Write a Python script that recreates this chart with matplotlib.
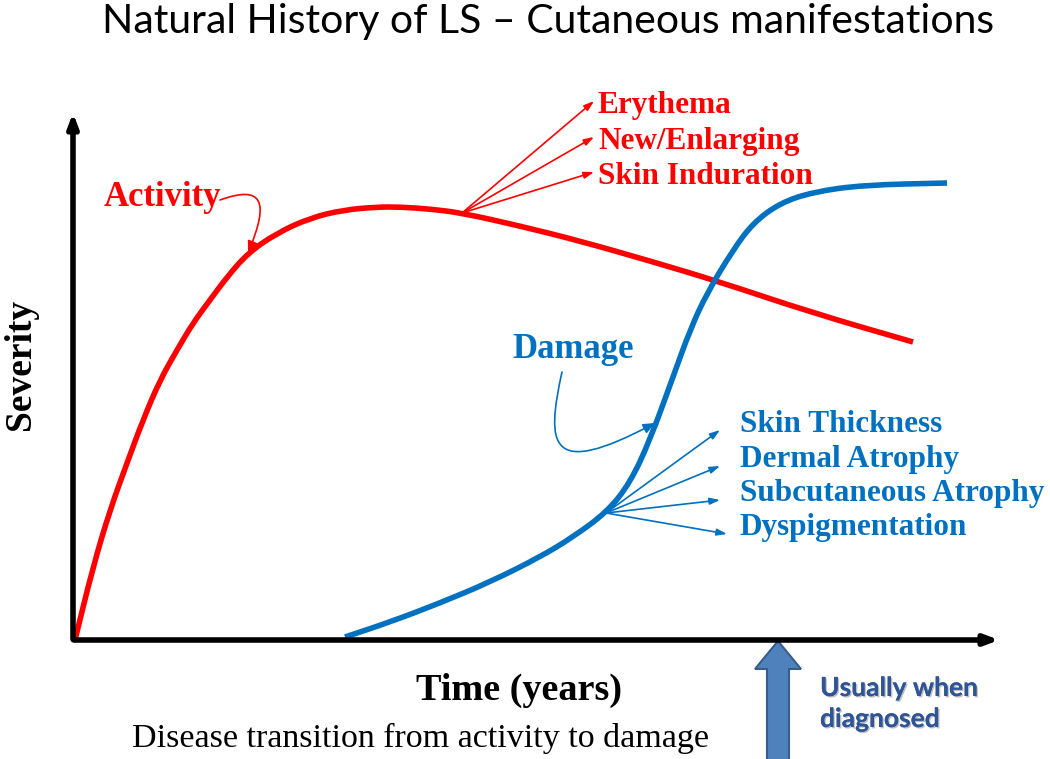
import matplotlib
matplotlib.use("Agg")
import matplotlib.pyplot as plt
from matplotlib.patches import FancyArrowPatch, FancyArrow, PathPatch
from matplotlib.path import Path
import matplotlib.patheffects as pe

# curve points (pixel positions)
activity_x = [75, 93, 110, 127, 143, 160, 177, 193, 210, 227, 248, 277, 310, 343, 377, 400, 430, 462, 520, 580, 650, 717, 813, 913]
activity_y = [640, 567, 510, 463, 420, 380, 350, 323, 300, 277, 253, 233, 218, 210, 207, 207, 209, 213, 226, 241, 261, 281, 313, 342]

damage_x = [345, 390, 440, 490, 540, 573, 607, 630, 650, 673, 690, 707, 733, 753, 780, 813, 863, 947]
damage_y = [637, 622, 603, 582, 557, 537, 512, 483, 440, 377, 330, 293, 250, 223, 203, 192, 185, 183]

activity_labels = ["Erythema", "New/Enlarging", "Skin Induration"]
activity_label_y = [105, 141, 176]
damage_labels = ["Skin Thickness", "Dermal Atrophy", "Subcutaneous Atrophy", "Dyspigmentation"]
damage_label_y = [424, 460, 494, 528]

RED = "#FF0000"
BLUE = "#0070C0"
SERIF = ["Liberation Serif", "DejaVu Serif"]
SANS = ["Lato", "DejaVu Sans"]


def smooth_path(xs, ys):
    # quadratic segments through midpoints, so the polyline reads as a smooth stroke
    pts = list(zip(xs, ys))
    verts = [pts[0]]
    codes = [Path.MOVETO]
    mid = ((pts[0][0] + pts[1][0]) / 2, (pts[0][1] + pts[1][1]) / 2)
    verts.append(mid)
    codes.append(Path.LINETO)
    for i in range(1, len(pts) - 1):
        nxt = ((pts[i][0] + pts[i + 1][0]) / 2, (pts[i][1] + pts[i + 1][1]) / 2)
        verts += [pts[i], nxt]
        codes += [Path.CURVE3, Path.CURVE3]
    verts.append(pts[-1])
    codes.append(Path.LINETO)
    return Path(verts, codes)


fig = plt.figure(figsize=(10.5, 7.59), dpi=100)
ax = fig.add_axes([0, 0, 1, 1])
ax.set_xlim(0, 1050)
ax.set_ylim(759, 0)
ax.axis("off")

# axes arrows
ax.annotate("", xy=(73, 110), xytext=(73, 642),
            arrowprops=dict(arrowstyle="-|>,head_length=0.8,head_width=0.3", lw=4, color="black"))
ax.annotate("", xy=(1002, 640), xytext=(71, 640),
            arrowprops=dict(arrowstyle="-|>,head_length=0.8,head_width=0.3", lw=4, color="black"))

# curves
ax.add_patch(PathPatch(smooth_path(activity_x, activity_y), fill=False, edgecolor=RED, lw=4, capstyle="butt"))
ax.add_patch(PathPatch(smooth_path(damage_x, damage_y), fill=False, edgecolor=BLUE, lw=4, capstyle="butt"))

# activity fan arrows
for ly in activity_label_y:
    ax.annotate("", xy=(594, ly - 4), xytext=(462, 213),
                arrowprops=dict(arrowstyle="-|>,head_length=0.6,head_width=0.2", lw=1.2, color=RED,
                                shrinkA=0, shrinkB=0))
for lab, ly in zip(activity_labels, activity_label_y):
    ax.text(598, ly, lab, color=RED, fontsize=22.5, fontweight="bold", family=SERIF, va="center")

# damage fan arrows
for ly, tx in zip(damage_label_y, [720, 720, 720, 727]):
    ax.annotate("", xy=(tx, ly + 6), xytext=(606, 513),
                arrowprops=dict(arrowstyle="-|>,head_length=0.6,head_width=0.2", lw=1.2, color=BLUE,
                                shrinkA=0, shrinkB=0))
for lab, ly in zip(damage_labels, damage_label_y):
    ax.text(740, ly, lab, color=BLUE, fontsize=22.5, fontweight="bold", family=SERIF, va="center")

# curve labels with curly connectors
ax.text(104, 197, "Activity", color=RED, fontsize=25, fontweight="bold", family=SERIF, va="center")
p = Path([(220, 200), (262, 185), (270, 200), (248, 253)],
         [Path.MOVETO, Path.CURVE4, Path.CURVE4, Path.CURVE4])
ax.add_patch(FancyArrowPatch(path=p, arrowstyle="-|>,head_length=7,head_width=3", lw=1.2, color=RED))

ax.text(512, 350, "Damage", color=BLUE, fontsize=25, fontweight="bold", family=SERIF, va="center")
p2 = Path([(562, 372), (546, 445), (548, 480), (655, 423)],
          [Path.MOVETO, Path.CURVE4, Path.CURVE4, Path.CURVE4])
ax.add_patch(FancyArrowPatch(path=p2, arrowstyle="-|>,head_length=7,head_width=3", lw=1.2, color=BLUE))

# diagnosis arrow
ax.add_patch(FancyArrow(778, 762, 0, -121, width=22, head_width=46, head_length=28,
                        length_includes_head=True, facecolor="#4F81BD", edgecolor="#385D8A", lw=1.5))
shadow = [pe.withSimplePatchShadow(offset=(1, -1), shadow_rgbFace="#B0B0B0", alpha=0.8), pe.Normal()]
ax.text(820, 688, "Usually when", color="#2F5597", fontsize=19, fontweight="bold", family=SANS,
        va="center", path_effects=shadow)
ax.text(820, 719, "diagnosed", color="#2F5597", fontsize=19, fontweight="bold", family=SANS,
        va="center", path_effects=shadow)

# texts
ax.text(548, 22, "Natural History of LS \u2013 Cutaneous manifestations", fontsize=29.5, family=SANS,
        ha="center", va="center")
ax.text(519, 690, "Time (years)", fontsize=27.5, fontweight="bold", family=SERIF, ha="center", va="center")
ax.text(420, 738, "Disease transition from activity to damage", fontsize=24.5, family=SERIF,
        ha="center", va="center")
ax.text(20, 364, "Severity", fontsize=27, fontweight="bold", family=SERIF, ha="center", va="center",
        rotation=90)

fig.savefig("out.png", dpi=100)
